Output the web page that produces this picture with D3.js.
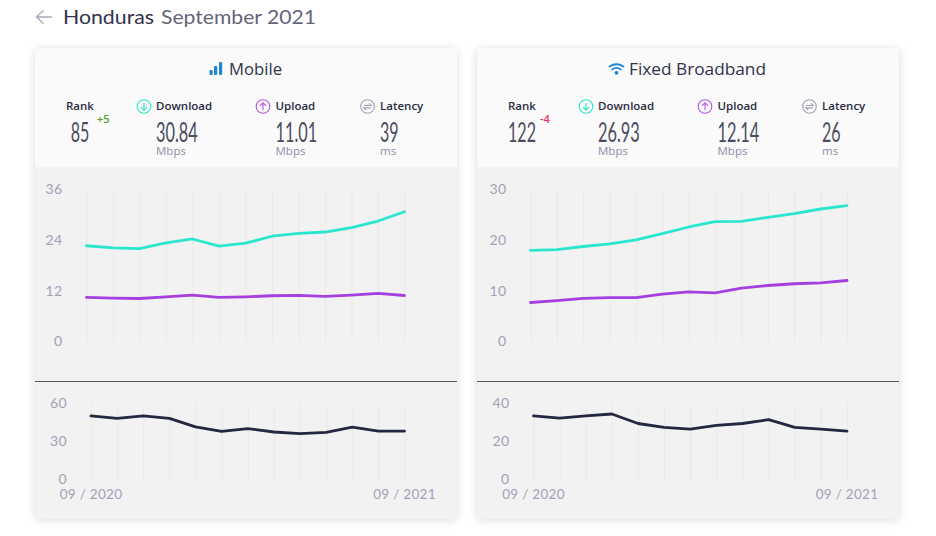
<!DOCTYPE html>
<html>
<head>
<meta charset="utf-8">
<script src="https://cdn.jsdelivr.net/npm/d3@7"></script>
<style>
  html, body { margin: 0; padding: 0; background: #fff; }
  svg { display: block; }
  text { font-family: "Open Sans", "Noto Sans", sans-serif; }
  .tick-label { font-family: Lato, "Open Sans", sans-serif; font-size: 14px; fill: #a2a1b8; letter-spacing: 0.4px; }
  .date-label { font-family: Lato, "Open Sans", sans-serif; font-size: 13.5px; fill: #a2a1b8; letter-spacing: 0.3px; }
  .metric-label { font-size: 11.5px; font-weight: 600; fill: #2a2c3f; }
  .metric-value { font-family: Lato, "Open Sans", sans-serif; font-weight: 400; font-size: 27px; fill: #4a4c5e; }
  .metric-unit { font-size: 11.5px; fill: #8f8ea6; }
  .card-title { font-size: 16.5px; fill: #30324a; }
  .page-title { font-family: Lato, sans-serif; font-size: 19px; }
</style>
</head>
<body>
<div id="chart"></div>
<script>
// Values
const months = ["09/2020", "10/2020", "11/2020", "12/2020", "01/2021", "02/2021", "03/2021",
  "04/2021", "05/2021", "06/2021", "07/2021", "08/2021", "09/2021"];

const mobileDownload = [22.8, 22.3, 22.1, 23.5, 24.4, 22.7, 23.4, 25.05, 25.75, 26.05, 27.1, 28.65, 30.84];
const mobileUpload = [10.55, 10.4, 10.3, 10.7, 11.1, 10.55, 10.7, 10.95, 11.05, 10.8, 11.1, 11.5, 11.01];
const mobileLatency = [51, 49, 51, 49, 42.4, 38.8, 41, 38.3, 37, 38, 42.2, 39, 39];

const fixedDownload = [18.1, 18.25, 18.85, 19.35, 20.15, 21.4, 22.7, 23.75, 23.8, 24.6, 25.35, 26.25, 26.93];
const fixedUpload = [7.8, 8.15, 8.6, 8.75, 8.75, 9.45, 9.9, 9.7, 10.65, 11.15, 11.5, 11.65, 12.14];
const fixedLatency = [34, 32.8, 34, 35, 30, 28, 27, 29, 30, 32, 28, 27, 26];

const mobileSpeedTicks = [0, 12, 24, 36];
const mobileLatencyTicks = [0, 30, 60];
const fixedSpeedTicks = [0, 10, 20, 30];
const fixedLatencyTicks = [0, 20, 40];
const dateLabels = ["09 / 2020", "09 / 2021"];

const width = 936;
const height = 536;
const cardWidth = 422;
const cardTop = 48;
const cardBottom = 519;

const svg = d3
    .select("#chart")
    .append("svg")
    .attr("width", width)
    .attr("height", height);

// Soft shadow round the cards
const shadow = svg.append("defs").append("filter")
    .attr("id", "shadow")
    .attr("x", "-5%").attr("y", "-5%").attr("width", "110%").attr("height", "110%");
shadow.append("feDropShadow")
    .attr("dx", 0).attr("dy", 1).attr("stdDeviation", 4)
    .attr("flood-color", "#000").attr("flood-opacity", 0.14);

// Page title
svg.append("path")
    .attr("d", "M52 17H37M43.5 10.5L36.5 17L43.5 23.5")
    .attr("fill", "none").attr("stroke", "#a9a8bb").attr("stroke-width", 1.3);
svg.append("text").attr("class", "page-title").attr("x", 63).attr("y", 23.5)
    .attr("fill", "#30324a").attr("textLength", 91).attr("lengthAdjust", "spacingAndGlyphs")
    .text("Honduras");
svg.append("text").attr("class", "page-title").attr("x", 161).attr("y", 23.5)
    .attr("fill", "#63647a").attr("textLength", 155).attr("lengthAdjust", "spacingAndGlyphs")
    .text("September 2021");

drawCard({
    x: 35, title: "Mobile", titleX: 229, titleWidth: 53, icon: "bars",
    rank: "85", change: "+5", changeColor: "#5c9a2c", changeX: 97,
    values: ["30.84", "11.01", "39"],
    download: mobileDownload, upload: mobileUpload, latency: mobileLatency,
    speedTicks: mobileSpeedTicks, latencyTicks: mobileLatencyTicks,
    speedLeft: 86.5, latencyLeft: 91, right: 404.5, speedAxisX: 62.5, latencyAxisX: 67
});

drawCard({
    x: 477, title: "Fixed Broadband", titleX: 629, titleWidth: 137, icon: "wifi",
    rank: "122", change: "-4", changeColor: "#f0325a", changeX: 540,
    values: ["26.93", "12.14", "26"],
    download: fixedDownload, upload: fixedUpload, latency: fixedLatency,
    speedTicks: fixedSpeedTicks, latencyTicks: fixedLatencyTicks,
    speedLeft: 530.5, latencyLeft: 533.5, right: 847, speedAxisX: 506.5, latencyAxisX: 509.5
});

// The reference numerals are a tall condensed face, so squeeze them to its width
function numberWidth(s) {
    return s.replace(".", "").length * 9.3 + (s.includes(".") ? 4.5 : 0);
}

function drawCard(c) {
    const g = svg.append("g");
    const off = c.x - 35;

    g.append("rect")
        .attr("x", c.x).attr("y", cardTop).attr("width", cardWidth).attr("height", cardBottom - cardTop)
        .attr("rx", 4).attr("fill", "#f2f2f2").attr("filter", "url(#shadow)");
    g.append("path")
        .attr("d", `M${c.x} 167V52a4 4 0 0 1 4-4H${c.x + cardWidth - 4}a4 4 0 0 1 4 4V167Z`)
        .attr("fill", "#fafafa");

    // Card heading
    g.append("text").attr("class", "card-title").attr("x", c.titleX).attr("y", 75)
        .attr("textLength", c.titleWidth).attr("lengthAdjust", "spacingAndGlyphs").text(c.title);
    if (c.icon === "bars") {
        [[209.5, 70, 5], [214, 66, 9], [219, 62, 13]].forEach((b) => {
            g.append("rect").attr("x", b[0]).attr("y", b[1]).attr("width", 3.2).attr("height", b[2])
                .attr("rx", 1).attr("fill", "#1f86d0");
        });
    } else {
        const wifi = g.append("g").attr("transform", "translate(616.5,72)")
            .attr("fill", "none").attr("stroke", "#1f86d0").attr("stroke-width", 1.8).attr("stroke-linecap", "round");
        wifi.append("path").attr("d", "M-7 -5.5Q0 -10 7 -5.5");
        wifi.append("path").attr("d", "M-4.4 -2.6Q0 -5.6 4.4 -2.6");
        wifi.append("circle").attr("cx", 0).attr("cy", 0.8).attr("r", 1).attr("fill", "#1f86d0");
    }

    // Headline numbers
    g.append("text").attr("class", "metric-label").attr("x", 66 + off).attr("y", 110).text("Rank");
    g.append("text").attr("class", "metric-value").attr("x", 80 + off - numberWidth(c.rank) / 2)
        .attr("y", 142).attr("textLength", numberWidth(c.rank)).attr("lengthAdjust", "spacingAndGlyphs")
        .text(c.rank);
    g.append("text").attr("x", c.changeX).attr("y", 122.5)
        .attr("font-size", 11).attr("font-weight", 600).attr("fill", c.changeColor).text(c.change);

    const metrics = [
        { label: "Download", x: 156, iconX: 144, color: "#2ee6cf", unit: "Mbps", kind: "down" },
        { label: "Upload", x: 275.5, iconX: 263, color: "#b455e6", unit: "Mbps", kind: "up" },
        { label: "Latency", x: 380, iconX: 367.5, color: "#a2a1b8", unit: "ms", kind: "lat" }
    ];
    metrics.forEach((m, i) => {
        const w = numberWidth(c.values[i]);
        g.append("text").attr("class", "metric-label").attr("x", m.x + off).attr("y", 110).text(m.label);
        g.append("text").attr("class", "metric-value").attr("x", m.x + off).attr("y", 142)
            .attr("textLength", w).attr("lengthAdjust", "spacingAndGlyphs").text(c.values[i]);
        g.append("text").attr("class", "metric-unit").attr("x", m.x + off).attr("y", 155).text(m.unit);
        const ic = g.append("g").attr("transform", `translate(${m.iconX + off},106.5)`)
            .attr("fill", "none").attr("stroke", m.color).attr("stroke-width", 1.1);
        ic.append("circle").attr("r", 6.8);
        if (m.kind === "down") ic.append("path").attr("d", "M0 -3.5V3.5M-3 0.6L0 3.6L3 0.6");
        if (m.kind === "up") ic.append("path").attr("d", "M0 3.5V-3.5M-3 -0.6L0 -3.6L3 -0.6");
        if (m.kind === "lat") ic.append("path").attr("d", "M-3.6 -1H3.6L1.4 -3.2M3.6 1.4H-3.6L-1.4 3.6");
    });

    // Divider between speed and latency
    g.append("line")
        .attr("x1", c.x).attr("x2", c.x + cardWidth).attr("y1", 381.5).attr("y2", 381.5)
        .attr("stroke", "#55565f").attr("stroke-width", 1);

    drawPanel(g, {
        left: c.speedLeft, right: c.right, top: 190, bottom: 342, axisX: c.speedAxisX,
        ticks: c.speedTicks, labelShift: 1,
        series: [{ values: c.download, color: "#2be6cf" }, { values: c.upload, color: "#a63fe0" }]
    });
    drawPanel(g, {
        left: c.latencyLeft, right: c.right, top: 404.5, bottom: 480.5, axisX: c.latencyAxisX,
        ticks: c.latencyTicks, labelShift: 0.5,
        series: [{ values: c.latency, color: "#23273f" }]
    });

    // Date labels under the last panel
    g.append("text").attr("class", "date-label").attr("x", c.latencyLeft).attr("y", 499)
        .attr("text-anchor", "middle").text(dateLabels[0]);
    g.append("text").attr("class", "date-label").attr("x", c.right).attr("y", 499)
        .attr("text-anchor", "middle").text(dateLabels[1]);
}

function drawPanel(g, p) {
    const xScale = d3.scalePoint().domain(months).range([p.left, p.right]);
    const yScale = d3.scaleLinear().domain([0, d3.max(p.ticks)]).range([p.bottom, p.top]);

    // Vertical grid lines
    g.append("g")
        .attr("transform", `translate(0,${p.bottom})`)
        .call(d3.axisBottom(xScale).tickSize(p.top - p.bottom).tickFormat(""))
        .call((a) => a.select(".domain").remove())
        .call((a) => a.selectAll("line").attr("stroke", "#e9e9eb"));

    // Y axis labels only
    g.append("g")
        .attr("transform", `translate(${p.axisX},${p.labelShift})`)
        .call(d3.axisLeft(yScale).tickValues(p.ticks).tickSize(0).tickPadding(0))
        .call((a) => a.select(".domain").remove())
        .call((a) => a.selectAll("text").attr("class", "tick-label").attr("dy", "0.2em"));

    const line = d3.line()
        .x((d, i) => xScale(months[i]))
        .y((d) => yScale(d));

    p.series.forEach((s) => {
        g.append("path")
            .datum(s.values)
            .attr("d", line)
            .attr("fill", "none")
            .attr("stroke", s.color)
            .attr("stroke-width", 2.8)
            .attr("stroke-linejoin", "round")
            .attr("stroke-linecap", "round");
    });
}
</script>
</body>
</html>
